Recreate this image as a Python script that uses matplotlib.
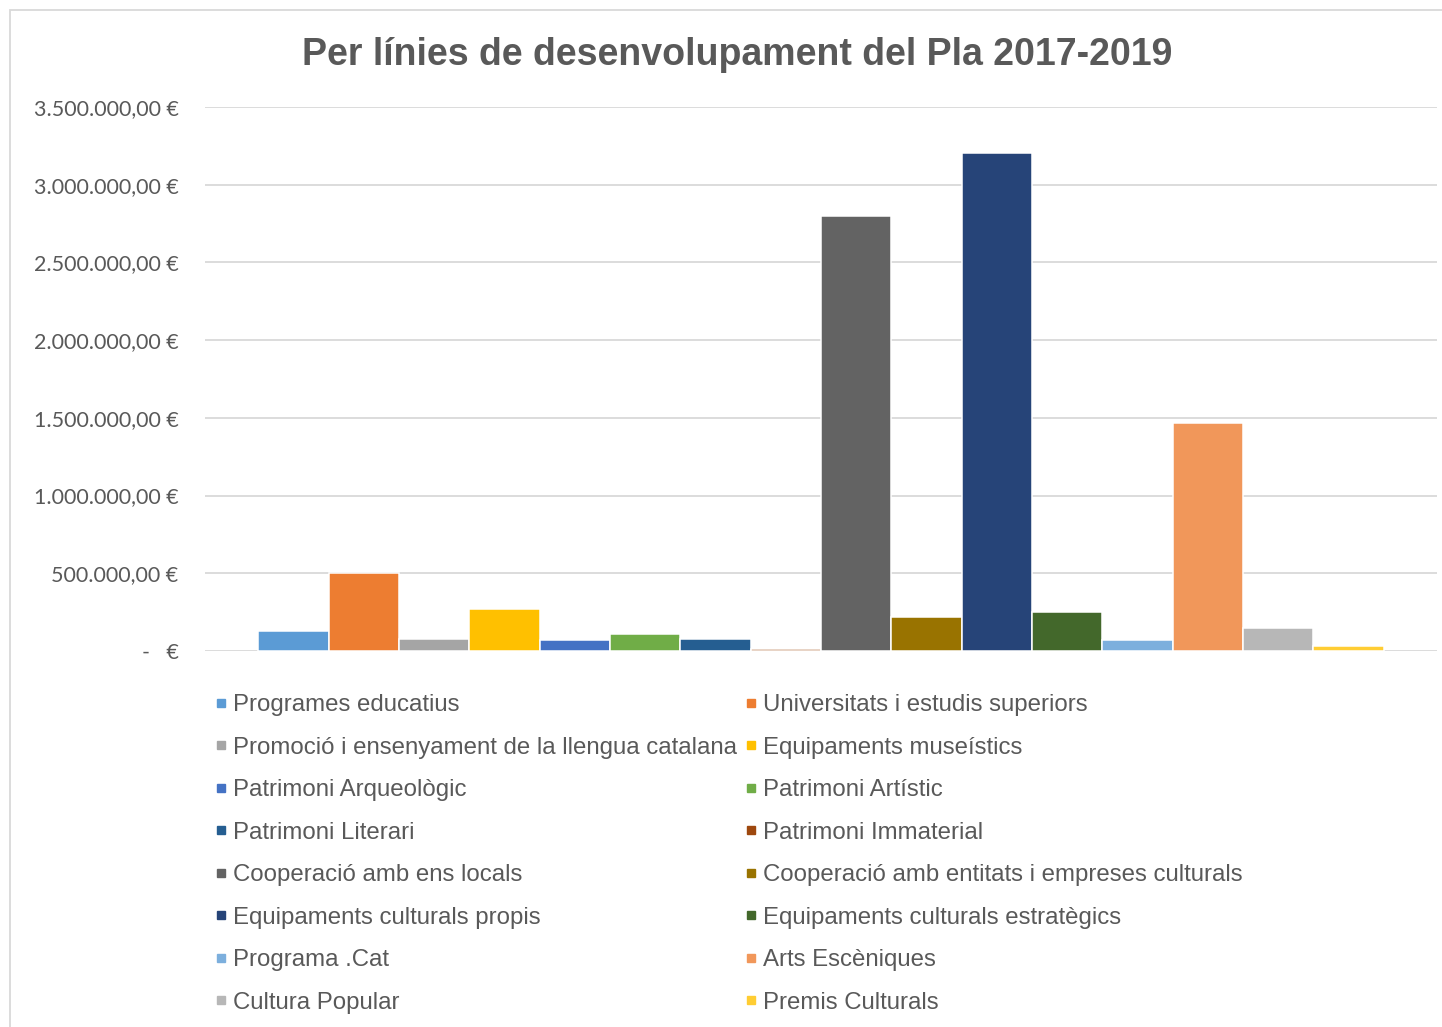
import matplotlib
matplotlib.use("Agg")
import matplotlib.pyplot as plt
from matplotlib.lines import Line2D
from matplotlib.patches import Rectangle
from matplotlib.ticker import FixedLocator

# ---- data ----
categories = [
    "Programes educatius",
    "Universitats i estudis superiors",
    "Promoció i ensenyament de la llengua catalana",
    "Equipaments museístics",
    "Patrimoni Arqueològic",
    "Patrimoni Artístic",
    "Patrimoni Literari",
    "Patrimoni Immaterial",
    "Cooperació amb ens locals",
    "Cooperació amb entitats i empreses culturals",
    "Equipaments culturals propis",
    "Equipaments culturals estratègics",
    "Programa .Cat",
    "Arts Escèniques",
    "Cultura Popular",
    "Premis Culturals",
]
values = [131000, 500000, 80000, 270000, 72000, 107000, 75000, 10000,
          2800000, 218000, 3205000, 250000, 70000, 1470000, 146000, 30000]
colors = ["#5B9BD5", "#ED7D31", "#A5A5A5", "#FFC000", "#4472C4", "#70AD47",
          "#255E91", "#9E480E", "#636363", "#997300", "#264478", "#43682B",
          "#7CAFDD", "#F1975A", "#B7B7B7", "#FFCD33"]
yticks = [0, 500000, 1000000, 1500000, 2000000, 2500000, 3000000, 3500000]
ytick_labels = ["-   €", "500.000,00 €", "1.000.000,00 €", "1.500.000,00 €",
                "2.000.000,00 €", "2.500.000,00 €", "3.000.000,00 €", "3.500.000,00 €"]
title = "Per línies de desenvolupament del Pla 2017-2019"

W, H = 1442, 1027
fig = plt.figure(figsize=(W / 100, H / 100), dpi=100)
fig.patch.set_facecolor("white")

TXT = "#595959"
GRID = "#D9D9D9"

# chart border
fig.patches.append(Rectangle((10 / W, -0.02), 1.1, 1 - 10 / H + 0.02,
                             transform=fig.transFigure, fill=False,
                             edgecolor=GRID, linewidth=1.3, zorder=0))

left, right = 205 / W, 1437 / W
bottom, top = (H - 651) / H, (H - 107) / H
ax = fig.add_axes([left, bottom, right - left, top - bottom])

handles = []
for i, (c, v, col) in enumerate(zip(categories, values, colors)):
    ax.bar(i, v, width=1.0, color=col, edgecolor="white", linewidth=1.1, zorder=3)
    handles.append(Line2D([], [], marker="s", linestyle="none", markersize=5.8,
                          markerfacecolor=col, markeredgecolor=col, label=c))

ax.set_xlim(-0.5 - 0.76, len(values) - 0.5 + 0.76)
ax.set_ylim(0, 3500000)
ax.yaxis.set_major_locator(FixedLocator(yticks))
ax.set_yticklabels(ytick_labels, fontfamily="Lato", fontsize=15.5, color=TXT)
ax.tick_params(axis="y", length=0, pad=19)
ax.set_xticks([])
for s in ax.spines.values():
    s.set_visible(False)
ax.grid(axis="y", color=GRID, linewidth=1.3)
ax.set_axisbelow(True)

fig.text(737.5 / W, 1 - 55 / H, title, ha="center", va="center",
         fontfamily="Liberation Sans", fontweight="bold", fontsize=27, color=TXT)

fs = 17.3
leg_kw = dict(loc="upper left", frameon=False, borderpad=0, borderaxespad=0,
              handlelength=0.48, handletextpad=0.28, labelspacing=0.855,
              prop={"family": "Liberation Sans", "size": fs}, labelcolor=TXT,
              bbox_transform=fig.transFigure)
col1 = handles[0::2]
col2 = handles[1::2]
leg1 = fig.legend(handles=col1, bbox_to_anchor=(215 / W, 1 - 694 / H), **leg_kw)
leg2 = fig.legend(handles=col2, bbox_to_anchor=(745 / W, 1 - 694 / H), **leg_kw)

fig.savefig("out.png", dpi=100, facecolor="white")
